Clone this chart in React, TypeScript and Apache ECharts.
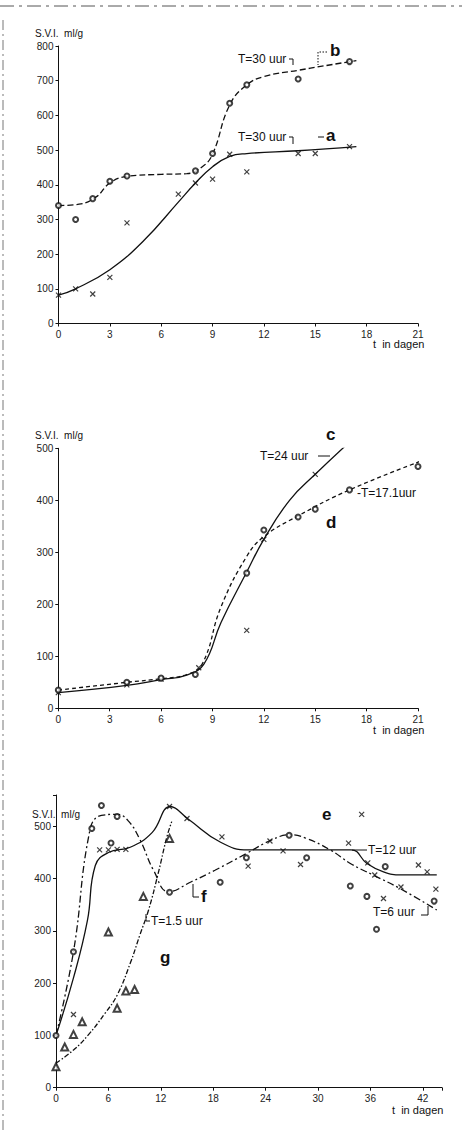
import React, { useEffect, useRef } from 'react';
import * as echarts from 'echarts';

// ---------- Panel 1 (a, b) ----------
const xTicks1 = [0, 3, 6, 9, 12, 15, 18, 21];
const daysA = [0, 1, 2, 3, 4, 7, 8, 9, 10, 11, 14, 15, 17];
const sviA = [82, 100, 85, 133, 290, 373, 405, 416, 488, 437, 490, 490, 510];
const daysB = [0, 1, 2, 3, 4, 8, 9, 10, 11, 14, 15, 17];
const sviB = [340, 300, 360, 410, 425, 440, 490, 635, 688, 705, 835, 755];
const curveA = [[0, 82], [1, 100], [3, 155], [5, 240], [7, 350], [8, 405], [9, 452], [10, 482], [11, 490], [14, 498], [17.4, 510]];
const curveB = [[0, 340], [1.2, 344], [2.2, 365], [3, 405], [4, 424], [6, 430], [7.5, 432], [8.4, 452], [9, 488], [10, 630], [11, 688], [12, 712], [14, 730], [17.4, 758]];

// ---------- Panel 2 (c, d) ----------
const daysC = [0, 4, 6, 8.2, 11, 12, 15, 17];
const sviC = [30, 45, 56, 78, 150, 325, 450, 505];
const daysD = [0, 4, 6, 8, 11, 12, 14, 15, 17, 21];
const sviD = [35, 50, 58, 65, 260, 343, 368, 383, 420, 465];
const curveC = [[0, 30], [4, 44], [6, 55], [7.5, 64], [8.5, 85], [9.5, 165], [11, 262], [12, 325], [13.5, 400], [15, 450], [17.2, 518]];
const curveD = [[0, 35], [4, 50], [6, 57], [7.5, 65], [8.4, 85], [9.5, 195], [11, 292], [12, 330], [14, 370], [17, 420], [21.3, 477]];

// ---------- Panel 3 (e, f, g) ----------
const xTicks3 = [0, 6, 12, 18, 24, 30, 36, 42];
const daysE = [2, 5, 6, 7, 8, 13, 15, 19, 22, 24.5, 26, 28, 33.5, 35, 35.7, 36.5, 37.5, 39.5, 41.5, 42.5, 43.5];
const sviE = [140, 455, 455, 456, 456, 538, 515, 480, 424, 472, 453, 427, 468, 523, 430, 407, 362, 384, 426, 413, 380];
const daysF = [0, 2, 4.1, 5.2, 6.3, 7, 13, 18.8, 21.8, 26.7, 28.7, 33.7, 35.6, 36.7, 37.7, 43.3];
const sviF = [100, 260, 496, 540, 468, 519, 374, 393, 440, 483, 440, 386, 366, 303, 423, 357];
const daysG = [0, 1, 2, 3, 6, 7, 8, 9, 10, 13];
const sviG = [40, 78, 102, 126, 298, 152, 185, 188, 366, 477];
const curveE = [[0, 100], [2, 210], [3.6, 320], [4.5, 425], [6, 450], [8.5, 460], [11, 488], [13.1, 538], [15.2, 513], [18.8, 470], [22, 455], [33.8, 455], [35.6, 429], [37.5, 413], [39.5, 407], [43.6, 407]];
const curveF = [[0, 100], [2, 260], [3.9, 494], [5.2, 521], [7, 523], [8.3, 510], [9.6, 475], [11.2, 415], [12.9, 375], [15.5, 394], [18.2, 416], [21.8, 448], [24.7, 474], [26.8, 484], [28.5, 478], [31.4, 455], [33.7, 429], [36.3, 407], [39.4, 381], [43.6, 340]];
const curveG = [[0, 47], [2, 72], [3.7, 101], [5.6, 142], [7, 177], [8.5, 238], [9.6, 292], [10.6, 340], [11.7, 410], [12.7, 480], [13.25, 509]];

const pairs = (xs: number[], ys: number[]) => xs.map((x, i) => [x, ys[i]]);

const INK = '#111';
const FONT = '"Liberation Sans", Arial, sans-serif';
const CROSS = 'path://M0,0L10,10M10,0L0,10';

const axisBase = {
  type: 'value' as const,
  axisLine: { lineStyle: { color: INK, width: 1 } },
  axisTick: { length: 3, lineStyle: { color: INK, width: 1 } },
  splitLine: { show: false },
};

function xAxisDef(gridIndex: number, max: number, interval: number, ticks: number[]) {
  return {
    ...axisBase,
    gridIndex,
    min: 0,
    max,
    interval,
    axisLabel: {
      color: '#222',
      fontSize: 10,
      fontFamily: FONT,
      margin: 6,
      showMaxLabel: true,
      formatter: (v: number) => (ticks.includes(v) ? String(v) : ''),
    },
  };
}

function yAxisDef(gridIndex: number, max: number) {
  return {
    ...axisBase,
    gridIndex,
    min: 0,
    max,
    interval: 100,
    axisLabel: {
      color: '#222',
      fontSize: 10,
      fontFamily: FONT,
      margin: 5,
      formatter: (v: number) => (v % 100 === 0 ? String(v) : ''),
    },
  };
}

function lineSeries(idx: number, data: number[][], type: any, width = 1.3) {
  return {
    type: 'line',
    xAxisIndex: idx,
    yAxisIndex: idx,
    data,
    smooth: 0.45,
    symbol: 'none',
    showSymbol: false,
    silent: true,
    lineStyle: { color: INK, width, type },
    z: 2,
  };
}

function markSeries(idx: number, data: number[][], symbol: string, size: number) {
  const isPath = symbol.startsWith('path://');
  return {
    type: 'scatter',
    xAxisIndex: idx,
    yAxisIndex: idx,
    data,
    symbol,
    symbolSize: size,
    silent: true,
    itemStyle: isPath
      ? { color: INK, borderColor: INK, borderWidth: 1.2 }
      : { color: INK, borderWidth: 1.1 },
    z: 3,
  };
}

function txt(text: string, x: number, y: number, size = 12, bold = false) {
  return {
    type: 'text',
    x,
    y,
    silent: true,
    style: {
      text,
      fill: INK,
      font: `${bold ? 'bold ' : ''}${size}px ${FONT}`,
      verticalAlign: 'middle',
      textVerticalAlign: 'middle',
      align: 'left',
    },
  };
}

function pl(points: number[][], dash?: number[]) {
  return {
    type: 'polyline',
    silent: true,
    shape: { points },
    style: { stroke: INK, lineWidth: 1, fill: null, lineDash: dash },
  };
}

export default function App() {
  const ref = useRef<HTMLDivElement>(null);
  useEffect(() => {
    if (!ref.current) return;
    const chart = echarts.init(ref.current, null, { renderer: 'svg' });
    const option: any = {
      animation: false,
      backgroundColor: '#fff',
      grid: [
        { left: 58.5, top: 46, width: 359.5, height: 277.5, outerBoundsMode: 'none' },
        { left: 58.3, top: 448.3, width: 359.7, height: 260, outerBoundsMode: 'none' },
        { left: 56, top: 795, width: 386, height: 292.7, outerBoundsMode: 'none' },
      ],
      xAxis: [
        xAxisDef(0, 21, 3, xTicks1),
        xAxisDef(1, 21, 3, xTicks1),
        xAxisDef(2, 44.2, 6, xTicks3),
      ],
      yAxis: [yAxisDef(0, 800), yAxisDef(1, 500), yAxisDef(2, 560)],
      series: [
        lineSeries(0, curveA, 'solid'),
        lineSeries(0, curveB, [6, 3]),
        markSeries(0, pairs(daysA, sviA), CROSS, 5),
        markSeries(0, pairs(daysB, sviB), 'emptyCircle', 5),

        lineSeries(1, curveC, 'solid'),
        lineSeries(1, curveD, [4, 3]),
        markSeries(1, pairs(daysC, sviC), CROSS, 5),
        markSeries(1, pairs(daysD, sviD), 'emptyCircle', 5),

        lineSeries(2, curveE, 'solid'),
        lineSeries(2, curveF, [7, 3, 2, 3]),
        lineSeries(2, curveG, [5, 2, 1.5, 2]),
        markSeries(2, pairs(daysE, sviE), CROSS, 5),
        markSeries(2, pairs(daysF, sviF), 'emptyCircle', 5),
        markSeries(2, pairs(daysG, sviG), 'emptyTriangle', 7),
      ],
      graphic: [
        // scan artefacts
        { type: 'line', silent: true, shape: { x1: 0, y1: 6, x2: 462, y2: 6 }, style: { stroke: '#555', lineWidth: 1, lineDash: [14, 5, 3, 5] } },
        { type: 'line', silent: true, shape: { x1: 3, y1: 20, x2: 3, y2: 1133 }, style: { stroke: '#777', lineWidth: 1, lineDash: [10, 4, 2, 4] } },

        // panel 1
        txt('S.V.I.  ml/g', 35, 33, 10),
        txt('t  in dagen', 373, 344, 11),
        txt('T=30 uur', 238, 59),
        pl([[289, 59], [293, 59], [293, 65]]),
        pl([[327, 52], [318, 52], [318, 65]], [1.5, 1.5]),
        txt('b', 330, 50, 17, true),
        txt('T=30 uur', 238, 137),
        pl([[289, 137], [293, 137], [293, 144]]),
        pl([[318, 137], [324, 137]]),
        txt('a', 326, 135, 17, true),

        // panel 2
        txt('S.V.I.  ml/g', 35, 435, 10),
        txt('t  in dagen', 373, 730, 11),
        txt('c', 326, 434, 17, true),
        txt('T=24 uur', 260, 456),
        pl([[318, 456], [330, 456]]),
        txt('-T=17.1uur', 357, 493),
        txt('d', 326, 522, 17, true),

        // panel 3
        txt('S.V.I.  ml/g', 32, 814, 10),
        txt('t  in dagen', 392, 1110, 11),
        txt('e', 322, 814, 17, true),
        pl([[352, 850], [367, 850]]),
        txt('T=12 uur', 368, 850),
        txt('T=6 uur', 373, 912),
        pl([[421, 915], [428, 915], [428, 906]]),
        pl([[193, 884], [193, 897], [199, 897]]),
        txt('f', 201, 896, 17, true),
        pl([[146, 914], [146, 921], [150, 921]]),
        txt('T=1.5 uur', 151, 921),
        txt('g', 160, 957, 17, true),
      ],
    };
    chart.setOption(option);
    return () => chart.dispose();
  }, []);
  return (
    <div
      ref={ref}
      style={{ position: 'absolute', left: 0, top: 0, width: 462, height: 1133, background: '#fff' }}
    />
  );
}
